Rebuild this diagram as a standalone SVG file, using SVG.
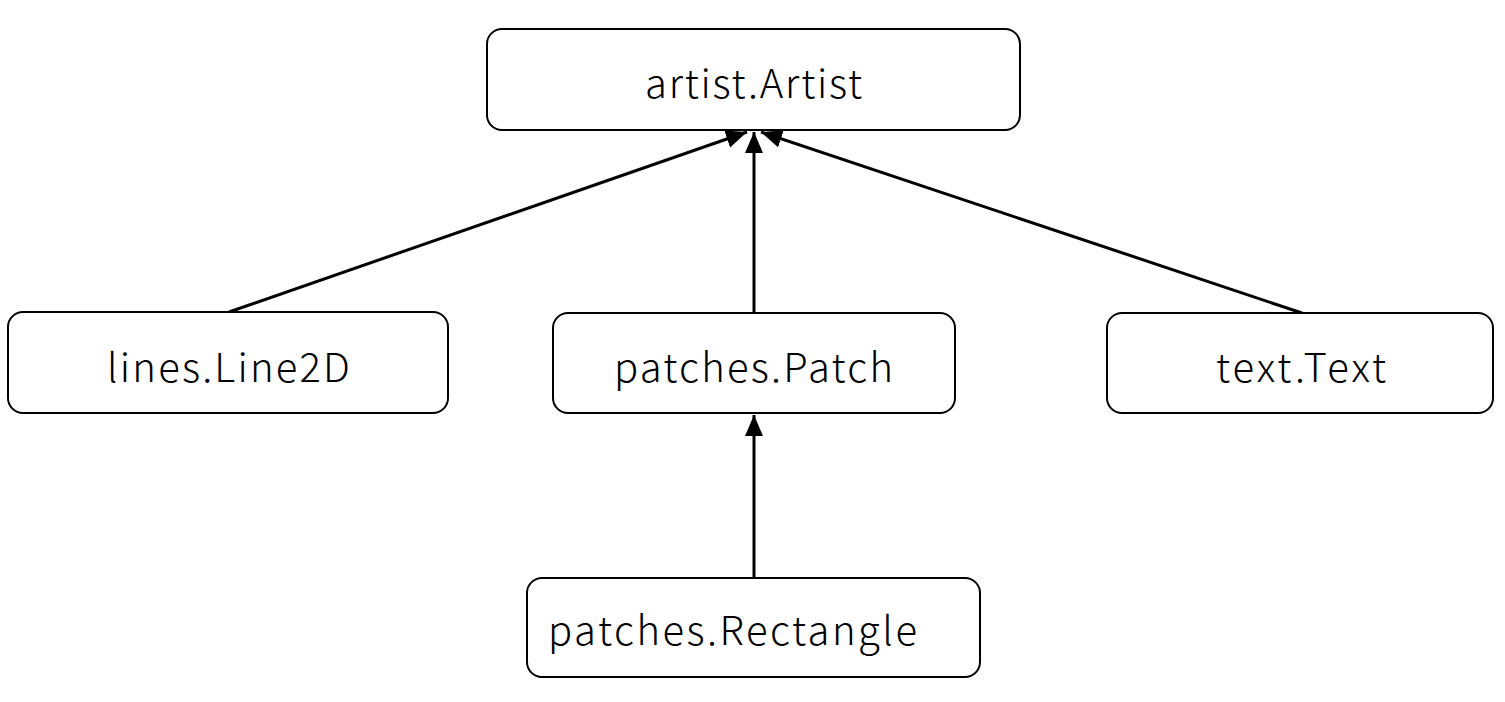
<svg xmlns="http://www.w3.org/2000/svg" width="1505" height="702" viewBox="0 0 1505 702">
<style>
.box{fill:#fff;stroke:#000;stroke-width:2}
.lbl{font-family:"Noto Sans CJK SC","Noto Sans",sans-serif;font-size:40px;font-weight:300;fill:#000}
.edge{stroke:#000;stroke-width:3;fill:none;marker-end:url(#ah)}
</style>
<defs>
<marker id="ah" markerUnits="userSpaceOnUse" markerWidth="22" markerHeight="22" viewBox="0 0 22 22" refX="21" refY="11" orient="auto">
<path d="M0,2 L21,11 L0,20 Z" fill="#000"/>
</marker>
</defs>
<rect width="1505" height="702" fill="#fff"/>
<g id="connectors">
<line class="edge" x1="229" y1="312" x2="747" y2="132"/>
<line class="edge" x1="754" y1="313" x2="754" y2="132"/>
<line class="edge" x1="1302" y1="313" x2="761" y2="132"/>
<line class="edge" x1="754" y1="578" x2="754" y2="415"/>
</g>
<g id="artist">
<rect class="box" x="487" y="29" width="533" height="101" rx="15"/>
<text class="lbl" x="645" y="98" textLength="217">artist.Artist</text>
</g>
<g id="line2d">
<rect class="box" x="8" y="312" width="440" height="101" rx="15"/>
<text class="lbl" x="107" y="382" textLength="243">lines.Line2D</text>
</g>
<g id="patch">
<rect class="box" x="553" y="313" width="402" height="100" rx="15"/>
<text class="lbl" x="614" y="382" textLength="279">patches.Patch</text>
</g>
<g id="text">
<rect class="box" x="1107" y="313" width="386" height="100" rx="15"/>
<text class="lbl" x="1216" y="382" textLength="170">text.Text</text>
</g>
<g id="rectangle">
<rect class="box" x="527" y="578" width="453" height="99" rx="15"/>
<text class="lbl" x="548" y="645" textLength="369">patches.Rectangle</text>
</g>
</svg>
